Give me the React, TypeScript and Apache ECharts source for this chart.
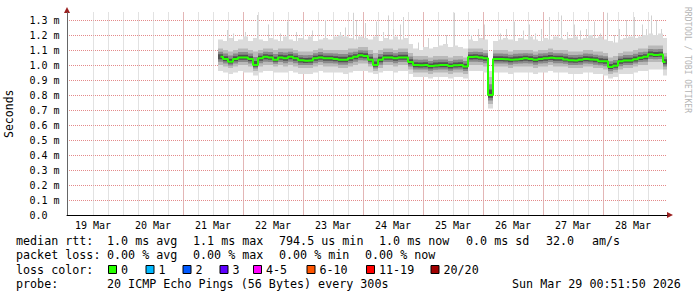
import React, { useEffect, useRef } from 'react';
import * as echarts from 'echarts';

// time axis: hours since 19 Mar 00:00; first smoke sample and sampling step
const T0 = 63;
const STEP = 2;

const median = [
  1.055, 1.04, 1.022, 1.04, 1.05, 1.05, 1.04, 1.0, 1.045, 1.055,
  1.05, 1.035, 1.05, 1.045, 1.055, 1.045, 1.032, 1.028, 1.03, 1.045,
  1.05, 1.045, 1.045, 1.04, 1.035, 1.035, 1.045, 1.055, 1.065, 1.06,
  1.035, 1.0, 1.035, 1.05, 1.05, 1.045, 1.05, 1.05, 1.02, 1.0,
  0.998, 1.0, 0.993, 0.997, 1.0, 1.0, 0.993, 0.998, 1.0, 0.99,
  1.053, 1.055, 1.05, 1.045, 0.8, 1.04, 1.04, 1.038, 1.035, 1.037,
  1.04, 1.045, 1.04, 1.035, 1.04, 1.045, 1.048, 1.045, 1.045, 1.037,
  1.032, 1.03, 1.035, 1.04, 1.037, 1.035, 1.025, 1.025, 0.987, 0.995,
  1.025, 1.03, 1.03, 1.038, 1.048, 1.055, 1.072, 1.067, 1.07, 1.02,
];
const smokeMax = [
  1.17, 1.16, 1.18, 1.16, 1.17, 1.19, 1.16, 1.18, 1.17, 1.16,
  1.18, 1.17, 1.16, 1.19, 1.17, 1.16, 1.18, 1.17, 1.19, 1.16,
  1.17, 1.18, 1.17, 1.19, 1.2, 1.19, 1.18, 1.17, 1.19, 1.18,
  1.17, 1.19, 1.16, 1.18, 1.17, 1.19, 1.17, 1.18, 1.14, 1.11,
  1.1, 1.12, 1.11, 1.12, 1.13, 1.14, 1.12, 1.13, 1.12, 1.11,
  1.17, 1.16, 1.18, 1.17, 0.96, 1.16, 1.17, 1.18, 1.17, 1.16,
  1.18, 1.17, 1.19, 1.17, 1.16, 1.18, 1.17, 1.19, 1.18, 1.17,
  1.18, 1.19, 1.17, 1.18, 1.2, 1.18, 1.19, 1.17, 1.16, 1.15,
  1.17, 1.18, 1.19, 1.18, 1.19, 1.2, 1.21, 1.2, 1.21, 1.18,
];
const smokeHi = [
  1.11, 1.1, 1.09, 1.1, 1.11, 1.11, 1.1, 1.09, 1.1, 1.11,
  1.11, 1.1, 1.11, 1.11, 1.11, 1.1, 1.09, 1.09, 1.09, 1.1,
  1.11, 1.1, 1.1, 1.1, 1.1, 1.1, 1.11, 1.11, 1.12, 1.12,
  1.1, 1.08, 1.1, 1.11, 1.11, 1.1, 1.11, 1.11, 1.08, 1.06,
  1.06, 1.06, 1.05, 1.06, 1.06, 1.06, 1.05, 1.06, 1.06, 1.05,
  1.11, 1.11, 1.11, 1.1, 0.92, 1.1, 1.1, 1.1, 1.09, 1.1,
  1.1, 1.1, 1.1, 1.09, 1.1, 1.1, 1.11, 1.1, 1.1, 1.1,
  1.09, 1.09, 1.09, 1.1, 1.1, 1.09, 1.09, 1.08, 1.05, 1.06,
  1.08, 1.09, 1.09, 1.1, 1.11, 1.11, 1.13, 1.13, 1.13, 1.08,
];
const smokeLo = [
  1.0, 0.99, 0.98, 0.99, 1.0, 1.0, 0.99, 0.96, 0.99, 1.0,
  1.0, 0.99, 1.0, 0.99, 1.0, 0.99, 0.98, 0.98, 0.98, 0.99,
  1.0, 0.99, 0.99, 0.99, 0.98, 0.98, 0.99, 1.0, 1.01, 1.01,
  0.99, 0.96, 0.98, 1.0, 1.0, 0.99, 1.0, 1.0, 0.97, 0.95,
  0.95, 0.95, 0.94, 0.95, 0.95, 0.95, 0.94, 0.95, 0.95, 0.94,
  1.0, 1.0, 1.0, 0.99, 0.74, 0.99, 0.99, 0.99, 0.98, 0.99,
  0.99, 0.99, 0.99, 0.98, 0.99, 0.99, 1.0, 0.99, 0.99, 0.99,
  0.98, 0.98, 0.98, 0.99, 0.99, 0.98, 0.98, 0.97, 0.94, 0.95,
  0.97, 0.98, 0.98, 0.99, 1.0, 1.0, 1.02, 1.02, 1.02, 0.97,
];
const smokeMin = [
  0.96, 0.95, 0.94, 0.95, 0.96, 0.95, 0.95, 0.93, 0.95, 0.96,
  0.96, 0.95, 0.95, 0.95, 0.96, 0.95, 0.94, 0.94, 0.94, 0.95,
  0.96, 0.95, 0.95, 0.95, 0.95, 0.94, 0.95, 0.96, 0.96, 0.96,
  0.95, 0.94, 0.95, 0.96, 0.96, 0.95, 0.96, 0.96, 0.94, 0.92,
  0.92, 0.92, 0.91, 0.92, 0.92, 0.92, 0.91, 0.92, 0.92, 0.91,
  0.96, 0.96, 0.96, 0.95, 0.71, 0.95, 0.95, 0.95, 0.94, 0.95,
  0.95, 0.95, 0.95, 0.94, 0.95, 0.95, 0.96, 0.95, 0.95, 0.95,
  0.94, 0.94, 0.94, 0.95, 0.95, 0.94, 0.94, 0.93, 0.91, 0.92,
  0.94, 0.94, 0.94, 0.95, 0.96, 0.96, 0.97, 0.97, 0.97, 0.93,
];
const spikeHours = [
  65.6, 68, 72.8, 77.6, 82, 86.8, 89.6, 93.2, 96, 99.6, 104.8, 110.8, 112.8, 116,
  117.2, 120.8, 125.2, 128, 130, 132, 134.8, 136, 142, 146, 150, 153.2, 156.4,
  163.2, 166, 168.4, 174.8, 177.2, 180.4, 184, 186.4, 188.8, 191.2, 194.4, 199.2,
  201.6, 204.4, 206.8, 209.2, 212.4, 214.8, 217.6, 220.4, 222.4, 225.2, 228.4,
  231.6, 233.2, 235.2, 237.2, 239.2,
];
const spikeValues = [
  1.233, 1.21, 1.22, 1.333, 1.27, 1.21, 1.29, 1.22, 1.28, 1.23, 1.3, 1.22, 1.25, 1.35,
  1.3, 1.28, 1.29, 1.22, 1.33, 1.24, 1.27, 1.32, 1.15, 1.18, 1.19, 1.2, 1.35,
  1.2, 1.24, 1.27, 1.21, 1.24, 1.29, 1.23, 1.27, 1.21, 1.24, 1.32, 1.33,
  1.22, 1.27, 1.23, 1.24, 1.29, 1.21, 1.35, 1.2, 1.24, 1.3, 1.32,
  1.27, 1.24, 1.33, 1.3, 1.24,
];

const dayLabels = ['19 Mar', '20 Mar', '21 Mar', '22 Mar', '23 Mar', '24 Mar', '25 Mar', '26 Mar', '27 Mar', '28 Mar'];
// tick positions (hours since 19 Mar 00:00)
const noonHours = [12, 36, 60, 84, 108, 132, 156, 180, 204, 228];
const midnightHours = [24, 48, 72, 96, 120, 144, 168, 192, 216, 240];
const sixHourTicks = [6, 12, 18, 24, 30, 36, 42, 48, 54, 60, 66, 72, 78, 84, 90, 96, 102, 108, 114, 120,
  126, 132, 138, 144, 150, 156, 162, 168, 174, 180, 186, 192, 198, 204, 210, 216, 222, 228, 234, 240];
const yTickLabels = ['0.0', '0.1 m', '0.2 m', '0.3 m', '0.4 m', '0.5 m', '0.6 m', '0.7 m', '0.8 m', '0.9 m', '1.0 m', '1.1 m', '1.2 m', '1.3 m'];

const lossLabels = ['0', '1', '2', '3', '4-5', '6-10', '11-19', '20/20'];
const lossColors = ['#26ff00', '#00b8ff', '#0059ff', '#5e00ff', '#ff00ff', '#ff5500', '#ff0000', '#a10000'];

const rttItems = ['median rtt:', '1.0 ms avg', '1.1 ms max', '794.5 us min', '1.0 ms now', '0.0 ms sd', '32.0', 'am/s'];
const lossItems = ['packet loss:', '0.00 % avg', '0.00 % max', '0.00 % min', '0.00 % now'];
const colorTitle = 'loss color:';
const probeItems = ['probe:', '20 ICMP Echo Pings (56 Bytes) every 300s'];
const timestampText = 'Sun Mar 29 00:51:50 2026';
const watermark = 'RRDTOOL / TOBI OETIKER';

const MONO = '"DejaVu Sans Mono", monospace';
const nb = (s: string) => s.replace(/ /g, '\u00a0');

export default function App() {
  const ref = useRef<HTMLDivElement>(null);
  useEffect(() => {
    if (!ref.current) return;
    const chart = echarts.init(ref.current, null, { renderer: 'svg' });

    const smokeData = median.map((m, i) => [T0 + i * STEP, smokeMin[i], smokeLo[i], m, smokeHi[i], smokeMax[i]]);
    const spikeData = spikeHours.map((h, i) => [h, spikeValues[i]]);
    const medianData = median.map((m, i) => [T0 + i * STEP, m]);

    const legendFont = 11.7;
    const rttX = [16, 107, 193, 279, 379, 466, 546, 592];
    const lossX = [16, 107, 193, 279, 365];
    const probeX = [16, 107];
    const boxX = [108, 145.5, 182.5, 219.5, 253, 306.5, 366, 430.5];
    const rowY = [240.5, 255, 269.5, 284];

    const txt = (x: number, y: number, s: string) => ({
      type: 'text', x, y,
      style: { text: nb(s), fill: '#000', fontFamily: MONO, fontSize: legendFont, verticalAlign: 'middle' },
    });

    const graphics: any[] = [
      ...rttItems.map((s, i) => txt(rttX[i], rowY[0], s)),
      ...lossItems.map((s, i) => txt(lossX[i], rowY[1], s)),
      txt(16, rowY[2], colorTitle),
      ...probeItems.map((s, i) => txt(probeX[i], rowY[3], s)),
      txt(512, rowY[3], timestampText),
      { type: 'text', x: 687, y: 60, rotation: -Math.PI / 2, style: { text: nb(watermark), fill: '#b4b4b4', fontFamily: MONO, fontSize: 8, align: 'center', verticalAlign: 'middle' } },
      { type: 'polygon', shape: { points: [[667, 212], [673, 215], [667, 218]] }, style: { fill: '#9b2020' } },
      { type: 'polygon', shape: { points: [[64, 13], [67, 7], [70, 13]] }, style: { fill: '#9b2020' } },
    ];
    lossLabels.forEach((lab, i) => {
      graphics.push({ type: 'rect', shape: { x: boxX[i] + 0.5, y: 265.5, width: 8, height: 8 }, style: { fill: lossColors[i], stroke: '#000', lineWidth: 1 } });
      graphics.push(txt(boxX[i] + 13, rowY[2], lab));
    });

    const xFmt = (v: number) => {
      const k = noonHours.findIndex((n) => Math.abs(n - v) < 1e-6);
      return k >= 0 ? dayLabels[k] : '';
    };
    const yFmt = (v: number) => {
      const k = Math.round(v * 10);
      return Math.abs(v - k / 10) < 1e-6 && yTickLabels[k] ? yTickLabels[k] : '';
    };

    chart.setOption({
      animation: false,
      backgroundColor: '#fff',
      grid: { left: 67, top: 12.5, width: 600, height: 202.5, containLabel: false, outerBoundsMode: 'none' },
      xAxis: [
        {
          type: 'value', min: 1.6, max: 241.6,
          axisLine: { show: true, onZero: false, lineStyle: { color: '#000', width: 1 } },
          axisTick: { show: false, customValues: sixHourTicks },
          axisLabel: { show: true, customValues: noonHours, formatter: xFmt, margin: 5, fontFamily: MONO, fontSize: 10, color: '#000' },
          splitLine: { show: true, showMinLine: false, showMaxLine: false, lineStyle: { color: '#c4c4c4', type: [1, 1], width: 1 } },
        },
        {
          type: 'value', min: 1.6, max: 241.6, position: 'bottom',
          axisLine: { show: false },
          axisTick: { show: false, customValues: midnightHours },
          axisLabel: { show: false, customValues: midnightHours },
          splitLine: { show: true, showMinLine: false, showMaxLine: false, lineStyle: { color: '#e48a8a', type: [1, 1], width: 1 } },
        },
      ],
      yAxis: {
        type: 'value', min: 0, max: 1.35, interval: 0.1,
        name: 'Seconds', nameLocation: 'middle', nameGap: 52.5, nameRotate: 90,
        nameTextStyle: { fontFamily: MONO, fontSize: 11.5, color: '#000' },
        axisLine: { show: true, onZero: false, lineStyle: { color: '#666', width: 1 } },
        axisTick: { show: false },
        axisLabel: { formatter: yFmt, align: 'left', margin: 37.5, fontFamily: MONO, fontSize: 10, color: '#000' },
        splitLine: { show: true, showMinLine: false, showMaxLine: false, lineStyle: { color: '#e48a8a', type: [1, 1], width: 1 } },
      },
      series: [
        {
          type: 'custom', name: 'spikes', data: spikeData, clip: true, z: 1,
          renderItem: (params: any, api: any) => {
            const h = api.value(0);
            const top = api.coord([h, api.value(1)]);
            const base = api.coord([h, 1.08]);
            const x = Math.round(top[0]);
            return { type: 'rect', shape: { x, y: top[1], width: 1, height: base[1] - top[1] }, style: { fill: '#d2d2d2' } };
          },
        },
        {
          type: 'custom', name: 'smoke', data: smokeData, clip: true, z: 2,
          renderItem: (params: any, api: any) => {
            const h = api.value(0);
            const w = api.size([STEP, 0])[0];
            const cx = api.coord([h, 0])[0];
            const x0 = cx - w / 2;
            const mn = api.value(1), lo = api.value(2), md = api.value(3), hi = api.value(4), mx = api.value(5);
            const layers: [number, number, string][] = [
              [mn, mx, '#dcdcdc'],
              [lo, hi, '#b9b9b9'],
              [md - (md - lo) * 0.6, md + (hi - md) * 0.6, '#8a8a8a'],
              [md - (md - lo) * 0.3, md + (hi - md) * 0.3, '#505050'],
            ];
            return {
              type: 'group',
              children: layers.map(([a, b, col]) => {
                const ya = api.coord([h, a])[1];
                const yb = api.coord([h, b])[1];
                return { type: 'rect', shape: { x: x0, y: yb, width: w, height: ya - yb }, style: { fill: col } };
              }),
            };
          },
        },
        {
          type: 'line', name: 'median rtt', data: medianData, step: 'middle', symbol: 'none', z: 3,
          lineStyle: { color: '#26ff00', width: 2 },
        },
      ],
      graphic: graphics,
    });
    return () => chart.dispose();
  }, []);

  return (
    <div style={{ position: 'fixed', left: 0, top: 0, width: 697, height: 297, background: '#fff' }}>
      <div ref={ref} style={{ width: 697, height: 297 }} />
    </div>
  );
}
